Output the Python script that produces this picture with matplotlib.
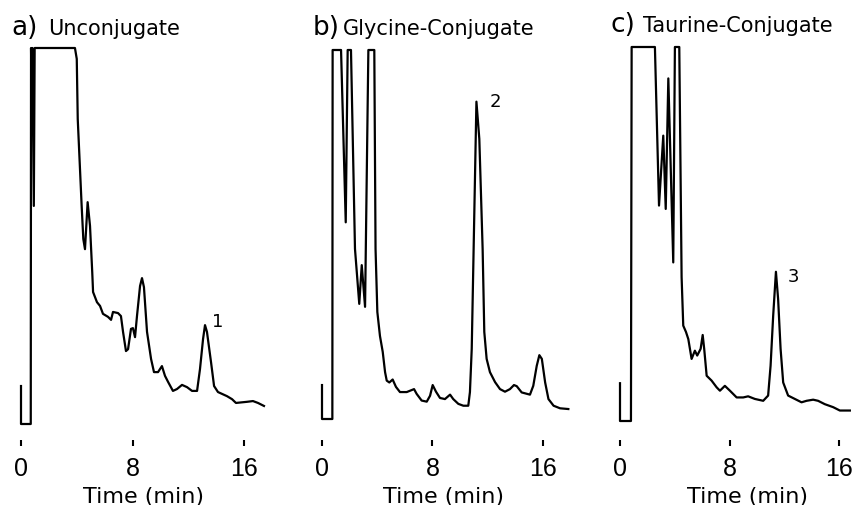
import matplotlib
matplotlib.use("Agg")
import matplotlib.pyplot as plt
from matplotlib import font_manager

# ---------------- data ----------------
panel_letters = ["a)", "b)", "c)"]
panel_titles = ["Unconjugate", "Glycine-Conjugate", "Taurine-Conjugate"]
peak_labels = ["1", "2", "3"]
peak_label_pos = [(14.1, 27.4), (12.54, 86.3), (12.64, 38.8)]
tick_values = [0, 8, 16]
tick_labels = ["0", "8", "16"]
x_label = "Time (min)"

time_a = [0, 0, 0.70, 0.72, 0.78, 0.82, 0.92, 0.98, 3.87, 4.00, 4.07, 4.35, 4.47, 4.59,
          4.78, 4.95, 5.11, 5.17, 5.45, 5.67, 5.88, 6.24, 6.46, 6.60, 6.96, 7.17, 7.32,
          7.53, 7.68, 7.89, 8.03, 8.18, 8.32, 8.54, 8.68, 8.82, 9.04, 9.33, 9.54, 9.83,
          10.11, 10.33, 10.55, 10.90, 11.19, 11.55, 11.91, 12.27, 12.63, 12.84, 13.06,
          13.20, 13.34, 13.63, 13.85, 14.13, 14.78, 15.14, 15.42, 16.21, 16.64, 17.00, 17.43]
signal_a = [10.1, 0, 0, 100, 80, 100, 58, 100, 100, 97.1, 81.1, 58.1, 49.2, 46.5,
            59.0, 52.7, 40.4, 35.1, 32.4, 31.4, 29.3, 28.5, 27.7, 29.8, 29.5, 28.7, 24.5,
            19.4, 19.9, 25.3, 25.5, 23.1, 28.7, 36.7, 38.8, 36.4, 24.5, 17.3, 13.8, 13.8,
            15.4, 12.8, 11.2, 8.8, 9.3, 10.4, 9.8, 8.8, 8.8, 14.6, 22.6,
            26.3, 24.5, 16.5, 10.1, 8.5, 7.4, 6.6, 5.6, 5.9, 6.1, 5.6, 4.8]

time_b = [0, 0, 0.75, 0.77, 1.38, 1.72, 1.86, 2.10, 2.39, 2.70, 2.88, 3.12, 3.36, 3.55,
          3.79, 3.88, 4.01, 4.20, 4.40, 4.57, 4.69, 4.88, 5.12, 5.36, 5.65, 6.14, 6.67,
          6.86, 7.22, 7.59, 7.83, 8.02, 8.26, 8.55, 8.91, 9.28, 9.51, 9.88, 10.24, 10.60,
          10.72, 10.85, 11.19, 11.40, 11.64, 11.76, 11.93, 12.17, 12.54,
          12.90, 13.26, 13.62, 13.91, 14.11, 14.47, 15.07, 15.31, 15.56, 15.75, 15.93,
          16.17, 16.41, 16.78, 17.25, 17.85]
signal_b = [9.2, 0, 0, 100, 100, 53.3, 100, 100, 46.1, 31.2, 41.7, 30.4, 100, 100,
            100, 46.1, 29.0, 22.5, 18.2, 12.7, 10.4, 9.9, 10.7, 8.7, 7.3, 7.3, 8.1,
            6.8, 5.0, 4.7, 6.3, 9.2, 7.4, 5.7, 5.4, 6.6, 5.4, 4.1, 3.6, 3.6,
            7.3, 19.0, 86.0, 75.9, 46.1, 23.6, 16.3, 12.7, 10.0,
            8.1, 7.4, 8.1, 9.2, 8.9, 7.2, 6.6, 9.0, 14.4, 17.3, 16.3,
            9.9, 5.4, 3.6, 2.9, 2.7]

time_c = [0, 0, 0.80, 0.85, 2.55, 2.68, 2.85, 3.16, 3.34, 3.53, 3.89, 4.01, 4.33, 4.50,
          4.62, 4.82, 4.99, 5.23, 5.47, 5.64, 5.89, 6.04, 6.15, 6.33, 6.69, 7.06, 7.30,
          7.66, 8.03, 8.52, 9.00, 9.36, 9.85, 10.46, 10.82, 11.00, 11.19, 11.39, 11.55,
          11.73, 11.92, 12.28, 12.77, 13.26, 13.63, 14.11, 14.47, 14.96, 15.57, 16.06, 16.79]
signal_c = [10.1, 0, 0, 100, 100, 81.6, 57.6, 76.3, 56.7, 91.6, 42.4, 100, 100, 38.5,
            25.5, 23.8, 21.9, 16.6, 18.8, 17.5, 19.3, 23.0, 19.3, 12.1, 10.8, 9.0, 8.1,
            9.4, 8.1, 6.3, 6.3, 6.6, 5.9, 5.4, 6.8, 14.8, 28.2, 39.9, 32.6,
            19.3, 10.3, 6.8, 5.9, 5.0, 5.4, 5.7, 5.4, 4.5, 3.7, 2.8, 2.8]

times = [time_a, time_b, time_c]
signals = [signal_a, signal_b, signal_c]

# ---------------- layout (pixels) ----------------
W, H = 858, 506
# x pixel of t=0, px per minute, y pixel of signal 0, y pixel of signal 100, xmax
layout = [
    (21.0, 13.94, 425.0, 49.0, 18.0),
    (322.0, 13.80, 420.0, 51.0, 18.0),
    (620.0, 13.69, 422.0, 48.0, 17.0),
]
letter_pos = [(11.7, 35.0), (312.7, 35.0), (610.7, 31.7)]
title_pos = [(48.0, 35.0), (343.3, 35.0), (643.3, 31.7)]
xlabel_center = [8.82, 8.82, 9.31]
axes_bottom_px = 447.0
axes_top_px = 40.0

names = {f.name for f in font_manager.fontManager.ttflist}
digit_font = "Liberation Sans Narrow" if "Liberation Sans Narrow" in names else "Liberation Sans"

fig = plt.figure(figsize=(W / 100, H / 100), dpi=100)
fig.patch.set_facecolor("white")

for i in range(3):
    x0, sx, y0, y100, xmax = layout[i]
    left = x0 - 0.5 * sx
    right = x0 + xmax * sx
    k = (y0 - y100) / 100.0
    ylo = -(axes_bottom_px - y0) / k
    yhi = 100 + (y100 - axes_top_px) / k
    ax = fig.add_axes([left / W, 1 - axes_bottom_px / H, (right - left) / W,
                       (axes_bottom_px - axes_top_px) / H])
    ax.set_xlim(-0.5, xmax)
    ax.set_ylim(ylo, yhi)
    ax.plot(times[i], signals[i], color="black", lw=1.6, solid_joinstyle="round")
    for s in ax.spines.values():
        s.set_visible(False)
    ax.set_yticks([])
    ax.set_xticks(tick_values)
    ax.set_xticklabels(tick_labels, fontfamily=digit_font, fontsize=18)
    ax.tick_params(axis="x", direction="in", length=4.5, width=1.5, pad=7, colors="black")
    ax.patch.set_alpha(0)
    # peak label
    px, py = peak_label_pos[i]
    ax.text(px, py, peak_labels[i], fontsize=13, ha="center", va="center",
            fontfamily="DejaVu Sans")
    # x label
    fig.text((x0 + xlabel_center[i] * sx) / W, 1 - 503 / H, x_label, fontsize=16,
             ha="center", va="baseline", fontfamily="DejaVu Sans")
    # titles
    lx, ly = letter_pos[i]
    fig.text(lx / W, 1 - ly / H, panel_letters[i], fontsize=19, ha="left",
             va="baseline", fontfamily="DejaVu Sans")
    tx, ty = title_pos[i]
    fig.text(tx / W, 1 - ty / H, panel_titles[i], fontsize=15, ha="left",
             va="baseline", fontfamily="DejaVu Sans")

fig.savefig("out.png", dpi=100, facecolor="white")
